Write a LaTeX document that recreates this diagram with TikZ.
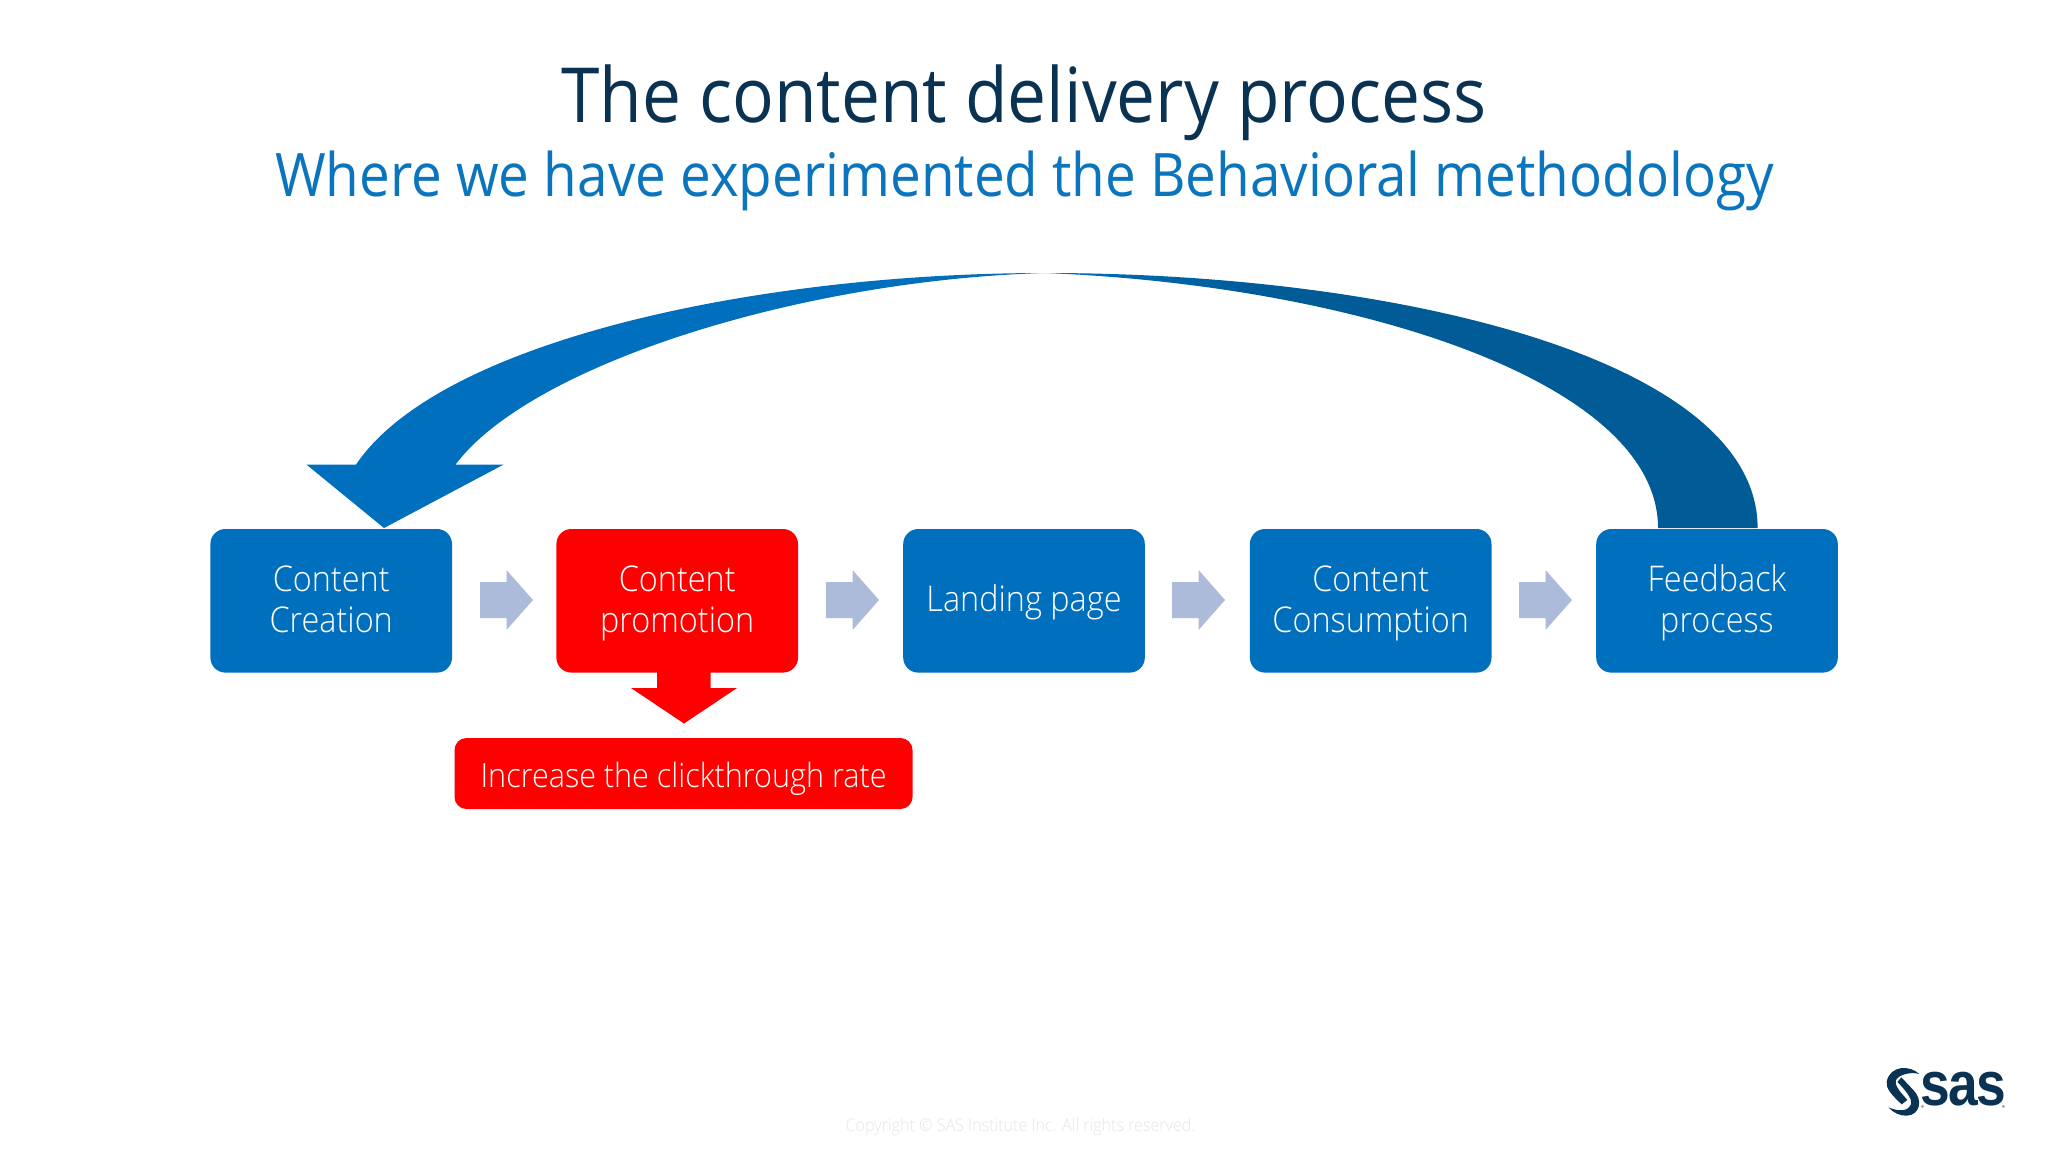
\documentclass[tikz,border=0pt]{standalone}
\usepackage{fontspec}
\setmainfont{Open Sans}[FakeStretch=0.913]
\newfontfamily\lightfont{Open Sans Light}[FakeStretch=0.915]
\newfontfamily\logofont{Liberation Sans Bold}[FakeStretch=0.86,LetterSpace=-3]
\newcommand{\topst}{\rule{0pt}{17.2pt}}
\definecolor{boxblue}{HTML}{0070BE}
\definecolor{archdark}{HTML}{005B97}
\definecolor{boxred}{HTML}{FF0000}
\definecolor{hint}{HTML}{ADBBDB}
\definecolor{navy}{HTML}{0A3252}
\definecolor{subblue}{HTML}{0A75BC}
\definecolor{faint}{HTML}{E6E6EA}
\pgfdeclarehorizontalshading{archshade}{100bp}{
  color(0bp)=(boxblue); color(25bp)=(boxblue); color(40bp)=(archdark); color(100bp)=(archdark)}
\tikzset{
  flowbox/.style={rectangle, rounded corners=7.5pt, fill=boxblue, minimum width=120.8pt, minimum height=71.8pt, text=white, inner sep=0pt, align=center, font=\lightfont\fontsize{17.7}{20.2}\selectfont},
  redbox/.style={flowbox, fill=boxred},
  hintarrow/.style={fill=hint},
}
\begin{document}
\begin{tikzpicture}[x=0.5pt,y=-0.5pt]
\useasboundingbox[fill=white] (0,0) rectangle (2048,1152);
\node[text=navy, font=\fontsize{38}{44}\selectfont, anchor=base] (title) at (1024,122) {The content delivery process};
\node[text=subblue, font=\fontsize{30}{34}\selectfont, anchor=base] (subtitle) at (1024.5,196) {Where we have experimented the Behavioral methodology};
% big arch
\path[fill=boxblue] (1045,273) .. controls (760,273) and (440,340) .. (356,464.6)
  -- (306.5,464.6) -- (384,528) -- (503.5,464.6) -- (455.5,464.6)
  .. controls (530,365) and (800,280) .. (1045,273) -- cycle;
\path[shading=archshade] (1045,273) .. controls (1400,273) and (1757.6,360) .. (1757.6,528)
  -- (1658,528) .. controls (1658,380) and (1350,285) .. (1045,273) -- cycle;
% flow boxes
\node[flowbox] (n1) at (331.2,600.8) {\topst Content\\\strut Creation};
\node[redbox] (n2) at (677.2,600.8) {\topst Content\\\strut promotion};
\node[flowbox] (n3) at (1024,600.8) {\topst\strut Landing page};
\node[flowbox] (n4) at (1370.7,600.8) {\topst Content\\\strut Consumption};
\node[flowbox] (n5) at (1717,600.8) {\topst Feedback\\\strut process};
\node[redbox, minimum width=229pt, minimum height=35.5pt, rounded corners=6pt, font=\lightfont\fontsize{16.7}{20}\selectfont] (n6) at (683.5,773.5) {\rule{0pt}{18pt}Increase the clickthrough rate};
% hint arrows
\foreach \x in {480,826,1172,1519}{
  \path[hintarrow] (\x,582) -- ++(26.5,0) -- ++(0,-12) -- ++(26.5,30) -- ++(-26.5,30) -- ++(0,-12) -- ++(-26.5,0) -- cycle;
}
% red arrow
\path[fill=boxred] (657,672) -- (710.6,672) -- (710.6,688) -- (737,688) -- (684,723.5) -- (631,688) -- (657,688) -- cycle;
% footer
\node[text=faint, font=\lightfont\fontsize{8.8}{10}\selectfont, anchor=base] (copy) at (1020.5,1131) {Copyright © SAS Institute Inc. All rights reserved.};
% logo
\node[text=navy, font=\logofont\fontsize{31}{31}\selectfont, anchor=base, inner sep=0pt] (sas) at (1963.5,1105) {sas};
\begin{scope}[shift={(1870,1050)},x=0.16667pt,y=-0.16667pt]
\path[fill=navy] (148,72) .. controls (120,45) and (60,45) .. (50,95) .. controls (47,115) and (65,135) .. (95,163) -- (112,150) .. controls (95,130) and (72,108) .. (78,90) .. controls (88,72) and (125,65) .. (148,72) -- cycle;
\path[fill=navy] (94,82) -- (130,120) .. controls (160,150) and (150,195) .. (110,197) .. controls (90,198) and (70,188) .. (55,172) .. controls (85,185) and (115,185) .. (123,162) .. controls (128,148) and (105,118) .. (82,96) -- cycle;
\path[fill=gray!70] (157,169) circle[radius=5];
\path[fill=gray!70] (400,169) circle[radius=5];
\end{scope}
\end{tikzpicture}
\end{document}
